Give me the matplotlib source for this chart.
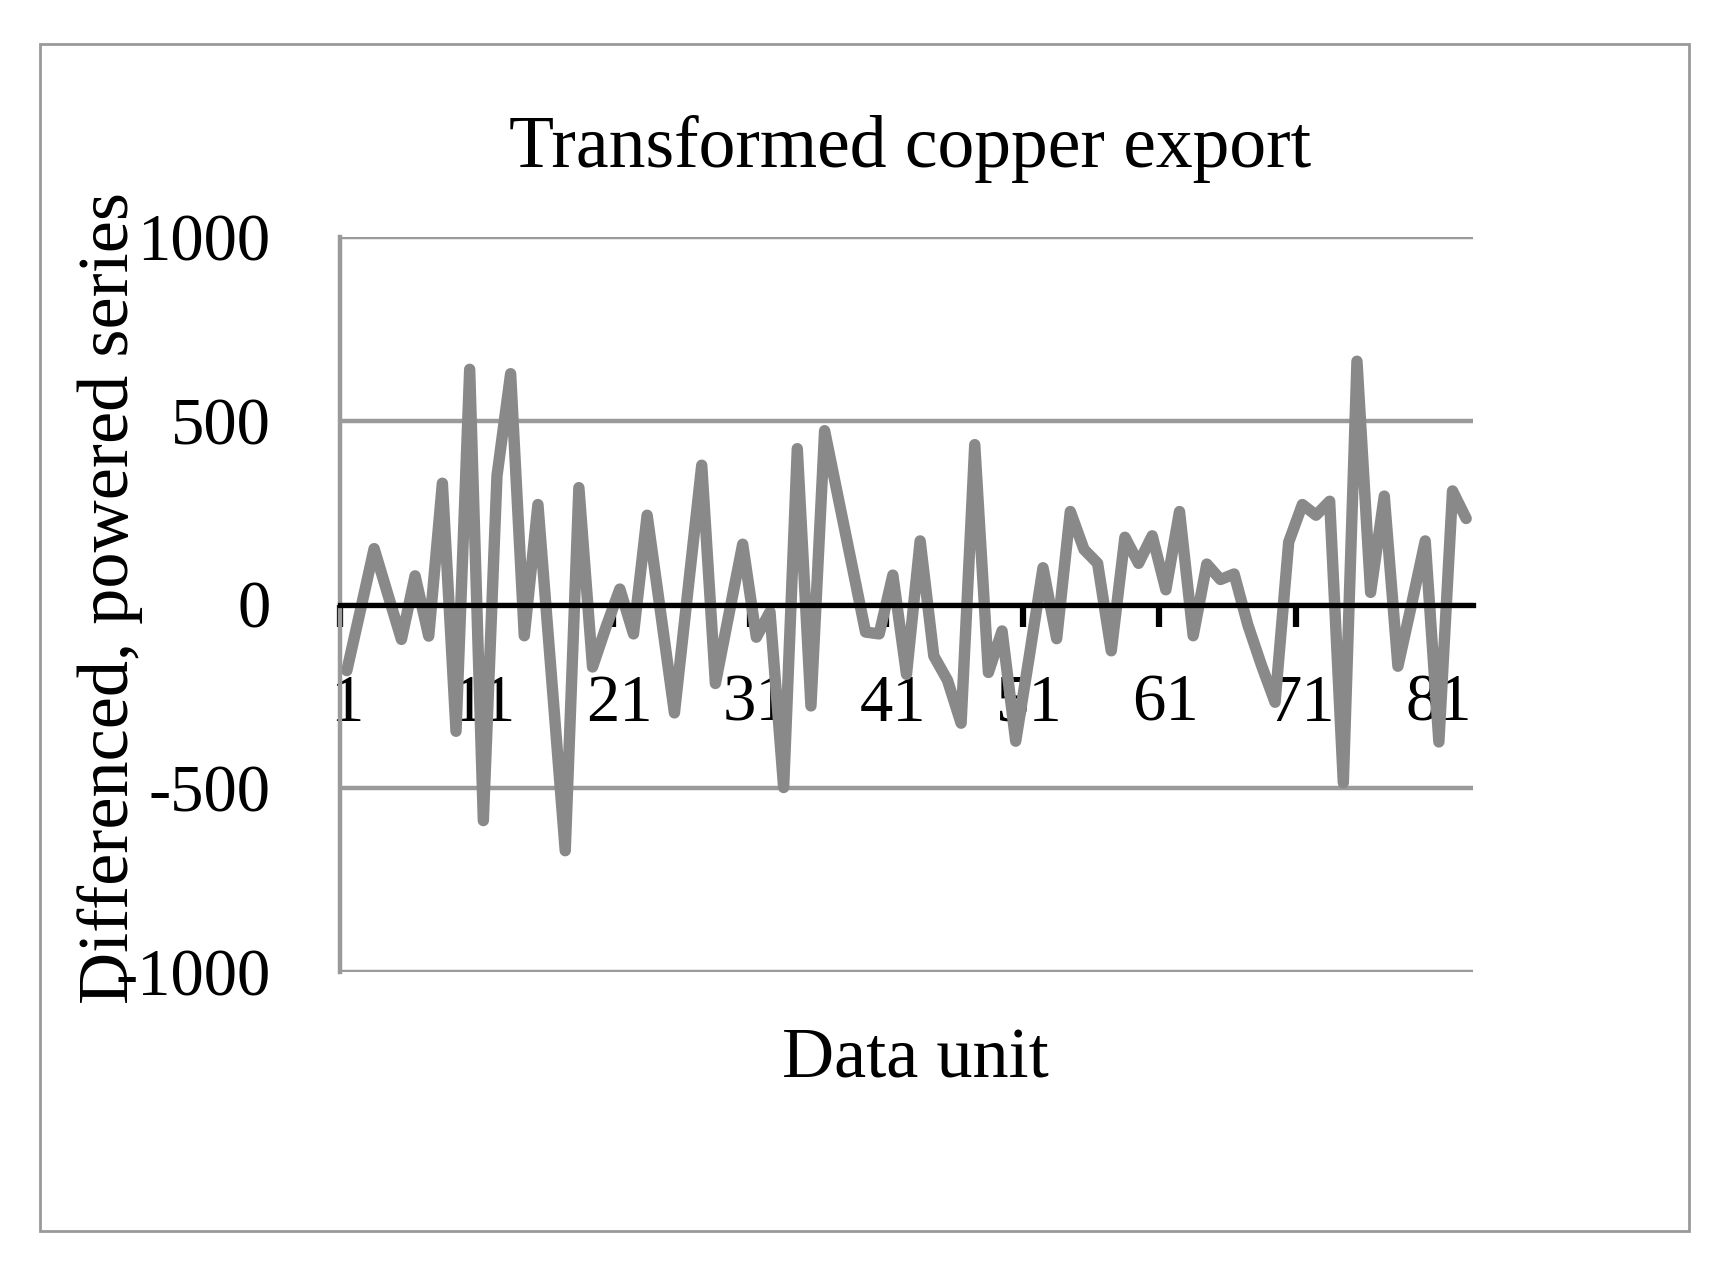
import matplotlib
matplotlib.use("Agg")
import matplotlib.pyplot as plt
from matplotlib.patches import Rectangle

# values, one per data unit (1..83)
values = [
    -180, -15, 152, 28, -95, 78, -86, 330, -345, 640,
    -588, 350, 628, -85, 272, -200, -670, 318, -170, -60,
    42, -80, 243, -25, -295, 42, 379, -215, -25, 164,
    -89, -20, -498, 424, -276, 473, 290, 108, -75, -80,
    80, -190, 173, -140, -206, -323, 435, -185, -72, -372,
    -140, 100, -93, 253, 150, 112, -126, 183, 112, 187,
    40, 253, -85, 110, 68, 83, -55, -165, -266, 170,
    272, 243, 281, -485, 662, 33, 295, -168, 0, 173,
    -374, 309, 234,
]
units = list(range(1, len(values) + 1))

x_labels = ["1", "11", "21", "31", "41", "51", "61", "71", "81"]
y_ticks = [-1000, -500, 0, 500, 1000]

plt.rcParams["font.family"] = ["Liberation Serif", "DejaVu Serif"]

W, H = 1728, 1273
fig = plt.figure(figsize=(W / 100, H / 100), dpi=100)

# outer frame
fig.patches.append(Rectangle((40 / W, 1 - 1231 / H), (1689 - 40) / W, (1231 - 44) / H,
                             transform=fig.transFigure, fill=False,
                             edgecolor="#999999", linewidth=2))

ax = fig.add_axes([340 / W, 1 - 972 / H, (1473 - 340) / W, (972 - 237) / H])

ax.plot(units, values, color="#898989", linewidth=8.2,
        solid_joinstyle="round", solid_capstyle="round", zorder=2)

ax.set_xlim(0.5, len(values) + 0.5)
ax.set_ylim(-1000, 1000)

# value axis
ax.set_yticks(y_ticks)
ax.set_yticklabels([str(v) for v in y_ticks])
ax.tick_params(axis="y", length=0, pad=50, labelsize=48)
ax.yaxis.grid(True, color="#9a9a9a", linewidth=3.2)
ax.set_axisbelow(True)

# category axis crossing at zero
ax.spines["bottom"].set_position(("data", 0))
ax.spines["bottom"].set_color("black")
ax.spines["bottom"].set_linewidth(3.8)
ax.spines["bottom"].set_zorder(3)
ax.spines["left"].set_color("#9a9a9a")
ax.spines["left"].set_linewidth(3.2)
ax.spines["top"].set_visible(False)
ax.spines["right"].set_visible(False)

ax.set_xticks([0.5 + 10 * i for i in range(len(x_labels))])
ax.set_xticklabels([])
ax.tick_params(axis="x", which="major", direction="out", length=16,
               width=4.5, color="black")
ax.set_xticks([int(s) for s in x_labels], minor=True)
ax.set_xticklabels(x_labels, minor=True)
ax.tick_params(axis="x", which="minor", length=0, pad=50, labelsize=48)

fig.text(910 / W, 1 - 149 / H, "Transformed copper export",
         ha="center", va="center", fontsize=53)
fig.text(915 / W, 1 - 1060 / H, "Data unit", ha="center", va="center", fontsize=52)
fig.text(110 / W, 1 - 598 / H, "Differenced, powered series", ha="center",
         va="center", rotation=90, fontsize=52)

fig.savefig("out.png", dpi=100)
